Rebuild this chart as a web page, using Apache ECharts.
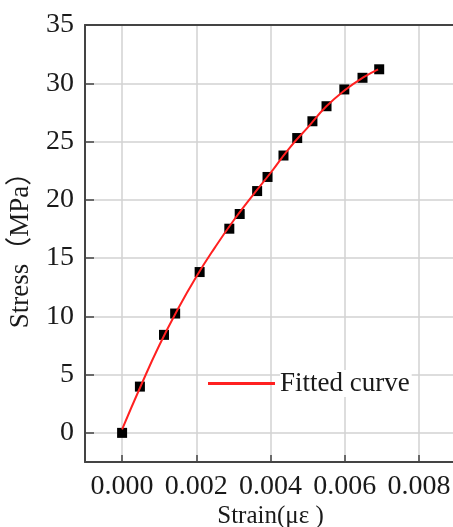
<!DOCTYPE html>
<head>
    <meta charset="utf-8"/>
    <style>
        html,body { height:100%; width:100%; margin:0; padding:0; background:#fff; }
    </style>
</head>
<body>

<div id="chart" style="width: 453px;height:527px"></div>

<script src="https://cdn.jsdelivr.net/npm/echarts@6/dist/echarts.min.js"></script>
<script type="text/javascript">

 // measured points (strain, stress)
 var strainData = [0, 0.00048, 0.00113, 0.00143, 0.00209, 0.00289, 0.00317, 0.00364, 0.00392, 0.00435, 0.00472, 0.00513, 0.00551, 0.00599, 0.00648, 0.00693];
 var stressData = [0, 3.97, 8.41, 10.24, 13.8, 17.52, 18.78, 20.75, 21.96, 23.8, 25.3, 26.74, 28.03, 29.47, 30.47, 31.2];

 // fitted curve
 var fitStrain = [0, 0.0005, 0.001, 0.0015, 0.002, 0.0025, 0.003, 0.0035, 0.004, 0.0045, 0.005, 0.0055, 0.006, 0.0065, 0.0069];
 var fitStress = [0.3, 4.0, 7.5, 10.6, 13.4, 15.9, 18.2, 20.3, 22.3, 24.4, 26.2, 28.0, 29.4, 30.5, 31.2];

 // tick labels
 var xTicks = [0, 0.002, 0.004, 0.006, 0.008];
 var yTicks = [0, 5, 10, 15, 20, 25, 30, 35];

 var font = "'Liberation Serif', 'Noto Sans CJK SC', serif";
 var axisColor = '#444';
 var gridColor = '#d2d2d2';

 function pairs(xs, ys){
     var out = [];
     for (var i = 0; i < xs.length; i++) {
         out.push([xs[i], ys[i]]);
     }
     return out;
 }

 var myChart = echarts.init(document.getElementById('chart'));

 var options = {
    animation: false,
    backgroundColor: '#fff',
    grid: {
        left: 85,
        right: -3,
        top: 25,
        bottom: 65,
        outerBoundsMode: 'none'
    },
    legend: {
        data: [{ name: 'Fitted curve', icon: 'rect', itemStyle: { color: '#ff2020' } }],
        left: 208,
        top: 370,
        padding: 0,
        itemWidth: 67,
        itemHeight: 3,
        selectedMode: false,
        textStyle: {
            fontFamily: font,
            fontSize: 27,
            color: '#1a1a1a',
            backgroundColor: '#fff',
            padding: [0, 2, 0, 0]
        }
    },
    xAxis: [{
        type: 'value',
        min: -0.001,
        max: 0.009,
        name: 'Strain(με )',
        nameLocation: 'middle',
        nameGap: 42,
        nameMoveOverlap: false,
        nameTextStyle: { fontFamily: font, fontSize: 25, color: '#1a1a1a' },
        axisLine: { onZero: false, lineStyle: { color: axisColor, width: 2 } },
        axisTick: { inside: true, length: 7, customValues: xTicks, lineStyle: { color: axisColor, width: 1.5 } },
        axisLabel: {
            customValues: xTicks,
            margin: 11,
            fontFamily: font,
            fontSize: 28,
            color: '#1a1a1a',
            formatter: function (v) { return v.toFixed(3); }
        },
        splitLine: { show: true, lineStyle: { color: gridColor, width: 1.5 } }
    }, {
        type: 'value',
        position: 'top',
        min: -0.001,
        max: 0.009,
        axisLine: { show: true, onZero: false, lineStyle: { color: axisColor, width: 2 } },
        axisTick: { show: false },
        axisLabel: { show: false },
        splitLine: { show: false }
    }],
    yAxis: {
        type: 'value',
        min: -2.5,
        max: 35,
        name: 'Stress（MPa）',
        nameLocation: 'middle',
        nameGap: 51,
        nameMoveOverlap: false,
        nameTextStyle: { fontFamily: font, fontSize: 27, color: '#1a1a1a' },
        axisLine: { show: true, onZero: false, lineStyle: { color: axisColor, width: 2 } },
        axisTick: { show: true, inside: true, length: 9, customValues: yTicks, lineStyle: { color: axisColor, width: 1.5 } },
        axisLabel: {
            customValues: yTicks,
            margin: 11,
            fontFamily: font,
            fontSize: 28,
            color: '#1a1a1a'
        },
        splitLine: { show: true, lineStyle: { color: gridColor, width: 1.5 } }
    },
    series: [
        {
            name: 'Fitted curve',
            type: 'line',
            smooth: true,
            symbol: 'none',
            z: 3,
            lineStyle: { color: '#ff2020', width: 2 },
            itemStyle: { color: '#ff2020' },
            data: pairs(fitStrain, fitStress)
        },
        {
            name: 'Measured',
            type: 'scatter',
            symbol: 'rect',
            symbolSize: 10,
            z: 2,
            itemStyle: { color: '#000', opacity: 1 },
            data: pairs(strainData, stressData)
        }
    ]
 };

 myChart.setOption(options);
</script>
</body>
